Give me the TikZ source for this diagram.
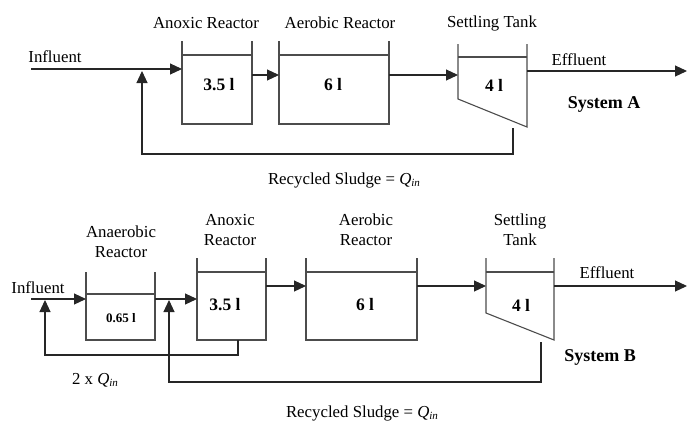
\documentclass[tikz,border=0pt]{standalone}
\usepackage{fontspec}
\setmainfont{Liberation Serif}
\usetikzlibrary{arrows.meta}
\tikzset{
  wall/.style={draw=black!70, line width=1.1pt},
  flow/.style={draw=black!85, line width=1.1pt, -{Triangle[length=12pt,width=11pt]}},
  lbl/.style={font=\fontsize{16.8}{20}\selectfont, inner sep=0pt, align=center},
  vol/.style={font=\bfseries\fontsize{17.5}{20}\selectfont, inner sep=0pt},
  svol/.style={font=\bfseries\fontsize{13}{15}\selectfont, inner sep=0pt},
  sys/.style={font=\bfseries\fontsize{18}{20}\selectfont, inner sep=0pt}
}
\newcommand{\Qin}{\textit{Q}\raisebox{-0.35ex}{\fontsize{11}{12}\selectfont\textit{in}}}
\begin{document}
\begin{tikzpicture}[x=1pt,y=-1pt]
\useasboundingbox (0,0) rectangle (687,423);
% ================= System A =================
% Anoxic reactor
\draw[wall] (182,41) -- (182,124) -- (252,124) -- (252,41);
\draw[wall] (182,55) -- (252,55);
% Aerobic reactor
\draw[wall] (279,41) -- (279,124) -- (389,124) -- (389,41);
\draw[wall] (279,55) -- (389,55);
% Settling tank
\draw[wall] (458,44) -- (458,99) -- (527,127) -- (527,44);
\draw[wall] (458,57) -- (527,57);

\node[lbl] (tA1) at (206,23) {Anoxic Reactor};
\node[lbl] (tA2) at (340,23) {Aerobic Reactor};
\node[lbl] (tA3) at (492,23) {Settling Tank};
\node[vol] (vA1) at (219,85) {3.5 l};
\node[vol] (vA2) at (333,85) {6 l};
\node[vol] (vA3) at (494,85) {4 l};
\node[lbl] (inA) at (55,57) {Influent};
\node[lbl] (efA) at (579,60) {Effluent};
\node[sys] (sA) at (604,104) {System A};
\node[lbl] (rA) at (344,180) {Recycled Sludge = \Qin};

\coordinate (Ain) at (31,69);
\coordinate (A1i) at (182,69);
\coordinate (A1o) at (252,75);
\coordinate (A2i) at (279,75);
\coordinate (A2o) at (389,75);
\coordinate (A3i) at (458,75);
\coordinate (A3o) at (527,71);
\coordinate (Aout) at (687,71);
\coordinate (Ar1) at (513,128);
\coordinate (Ar2) at (513,154);
\coordinate (Ar3) at (142,154);
\coordinate (Ar4) at (142,71);

\draw[flow] (Ain) -- (A1i);
\draw[flow] (A1o) -- (A2i);
\draw[flow] (A2o) -- (A3i);
\draw[flow] (A3o) -- (Aout);
\draw[flow] (Ar1) -- (Ar2) -- (Ar3) -- (Ar4);

% ================= System B =================
% Anaerobic
\draw[wall] (86,272) -- (86,340) -- (155,340) -- (155,272);
\draw[wall] (86,294) -- (155,294);
% Anoxic
\draw[wall] (197,258) -- (197,340) -- (266,340) -- (266,258);
\draw[wall] (197,272) -- (266,272);
% Aerobic
\draw[wall] (306,258) -- (306,340) -- (417,340) -- (417,258);
\draw[wall] (306,272) -- (417,272);
% Settling
\draw[wall] (486,258) -- (486,313) -- (554,340) -- (554,258);
\draw[wall] (486,272) -- (554,272);

\node[lbl] (tB1) at (121,242) {Anaerobic\\Reactor};
\node[lbl] (tB2) at (230,230) {Anoxic\\Reactor};
\node[lbl] (tB3) at (366,230) {Aerobic\\Reactor};
\node[lbl] (tB4) at (520,230) {Settling\\Tank};
\node[svol] (vB1) at (121,318) {0.65 l};
\node[vol] (vB2) at (225,305) {3.5 l};
\node[vol] (vB3) at (365,305) {6 l};
\node[vol] (vB4) at (521,305) {4 l};
\node[lbl] (inB) at (38,288) {Influent};
\node[lbl] (efB) at (607,273) {Effluent};
\node[sys] (sB) at (600,357) {System B};
\node[lbl] (qB) at (95,380) {2 x \Qin};
\node[lbl] (rB) at (362,413) {Recycled Sludge = \Qin};

\coordinate (Bin) at (31,299);
\coordinate (B1i) at (86,299);
\coordinate (B1o) at (155,299);
\coordinate (B2i) at (197,299);
\coordinate (B2o) at (266,286);
\coordinate (B3i) at (306,286);
\coordinate (B3o) at (417,286);
\coordinate (B4i) at (486,286);
\coordinate (B4o) at (554,286);
\coordinate (Bout) at (687,286);
\coordinate (Bi1) at (238,340);
\coordinate (Bi2) at (238,355);
\coordinate (Bi3) at (45,355);
\coordinate (Bi4) at (45,300);
\coordinate (Br1) at (541,342);
\coordinate (Br2) at (541,382);
\coordinate (Br3) at (169,382);
\coordinate (Br4) at (169,300);

\draw[flow] (Bin) -- (B1i);
\draw[flow] (B1o) -- (B2i);
\draw[flow] (B2o) -- (B3i);
\draw[flow] (B3o) -- (B4i);
\draw[flow] (B4o) -- (Bout);
\draw[flow] (Bi1) -- (Bi2) -- (Bi3) -- (Bi4);
\draw[flow] (Br1) -- (Br2) -- (Br3) -- (Br4);
\end{tikzpicture}
\end{document}
